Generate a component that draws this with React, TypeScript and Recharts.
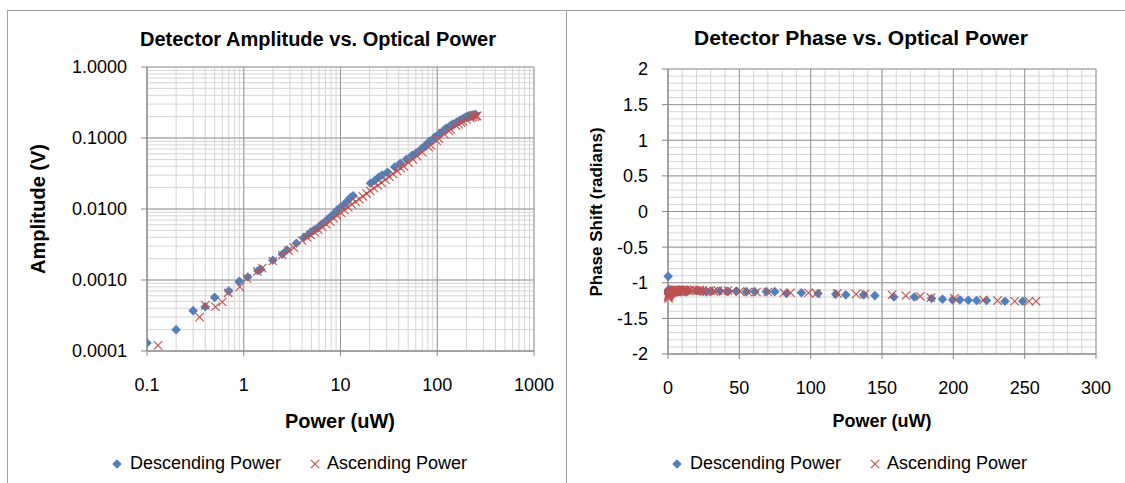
import React from 'react';
import { ScatterChart, Scatter, XAxis, YAxis, CartesianGrid } from 'recharts';

// Descending power sweep (uW), detector amplitude (V) and phase (rad)
const descPower = [
  0.1, 0.2, 0.3, 0.4, 0.5, 0.7, 0.9, 1.1, 1.4, 1.5,
  2.0, 2.5, 2.8, 3.5, 4.2, 4.6, 4.9, 5.3, 5.8, 6.3,
  6.8, 7.4, 8.0, 8.6, 9.2, 10.0, 10.8, 11.7, 12.7, 13.5,
  20.4, 22.5, 24.8, 26.9, 30.5, 36.3, 41.5, 48.0, 55.0, 60.8,
  69.0, 74.8, 83.0, 93.5, 105.2, 117.6, 124.6, 137.2, 145.0, 158.3,
  172.6, 184.7, 192.4, 199.5, 204.6, 210.5, 216.3, 223.3, 236.2, 248.6,
];
const descAmplitude = [
  0.00013, 0.0002, 0.00037, 0.00042, 0.00057, 0.0007, 0.00096, 0.0011, 0.00135, 0.00142,
  0.0019, 0.0023, 0.00265, 0.0033, 0.004, 0.0043, 0.0047, 0.005, 0.0054, 0.006,
  0.0065, 0.0072, 0.0079, 0.0086, 0.0096, 0.0106, 0.0115, 0.0128, 0.0145, 0.0154,
  0.023, 0.025, 0.028, 0.03, 0.033, 0.039, 0.044, 0.05, 0.057, 0.062,
  0.071, 0.078, 0.09, 0.102, 0.116, 0.13, 0.138, 0.15, 0.157, 0.168,
  0.179, 0.188, 0.193, 0.197, 0.2, 0.203, 0.206, 0.209, 0.213, 0.216,
];
const descPhase = [
  -0.91, -1.1, -1.12, -1.14, -1.11, -1.13, -1.12, -1.1, -1.13, -1.12,
  -1.11, -1.13, -1.12, -1.11, -1.12, -1.13, -1.12, -1.11, -1.12, -1.13,
  -1.12, -1.11, -1.12, -1.13, -1.12, -1.11, -1.12, -1.12, -1.13, -1.12,
  -1.11, -1.12, -1.12, -1.13, -1.12, -1.115, -1.12, -1.115, -1.125, -1.125,
  -1.125, -1.125, -1.15, -1.14, -1.15, -1.16, -1.17, -1.17, -1.18, -1.2,
  -1.2, -1.22, -1.23, -1.24, -1.24, -1.245, -1.25, -1.25, -1.26, -1.26,
];

// Ascending power sweep
const ascPower = [
  0.13, 0.35, 0.4, 0.51, 0.6, 0.69, 0.91, 1.08, 1.38, 1.55,
  2.0, 2.5, 2.9, 3.3, 4.0, 4.5, 4.9, 5.4, 5.9, 6.5,
  7.1, 7.8, 8.5, 9.2, 10.1, 11.0, 12.0, 13.1, 14.3, 15.6,
  17.0, 18.6, 20.3, 22.2, 24.3, 26.6, 29.1, 32.0, 35.0, 38.5,
  42.0, 45.0, 50.5, 56.0, 62.0, 70.0, 81.3, 85.9, 98.5, 104.0,
  118.7, 131.8, 138.0, 157.0, 166.7, 176.8, 184.3, 200.8, 221.0, 231.0,
  243.0, 253.0, 258.0,
];
const ascAmplitude = [
  0.00012, 0.0003, 0.00044, 0.00042, 0.00049, 0.00066, 0.0008, 0.00105, 0.00132, 0.00147,
  0.00185, 0.00225, 0.0026, 0.00285, 0.0036, 0.004, 0.0043, 0.0047, 0.0051, 0.0056,
  0.0061, 0.0067, 0.0074, 0.0081, 0.0089, 0.0097, 0.0106, 0.0116, 0.0127, 0.0138,
  0.0151, 0.0165, 0.018, 0.0197, 0.0215, 0.0235, 0.0258, 0.0285, 0.0312, 0.0345,
  0.0375, 0.04, 0.045, 0.05, 0.0555, 0.063, 0.074, 0.079, 0.092, 0.098,
  0.113, 0.126, 0.132, 0.149, 0.157, 0.165, 0.171, 0.182, 0.192, 0.196,
  0.2, 0.203, 0.205,
];
const ascPhase = [
  -1.2, -1.18, -1.22, -1.16, -1.19, -1.15, -1.17, -1.14, -1.16, -1.13,
  -1.15, -1.12, -1.14, -1.11, -1.13, -1.1, -1.12, -1.1, -1.11, -1.1,
  -1.12, -1.1, -1.11, -1.1, -1.11, -1.1, -1.11, -1.1, -1.11, -1.1,
  -1.11, -1.1, -1.11, -1.1, -1.11, -1.12, -1.11, -1.12, -1.11, -1.12,
  -1.11, -1.12, -1.12, -1.13, -1.13, -1.13, -1.14, -1.14, -1.14, -1.15,
  -1.15, -1.16, -1.16, -1.17, -1.18, -1.19, -1.21, -1.22, -1.24, -1.25,
  -1.26, -1.26, -1.26,
];

const powerLogTicks = [0.1, 1, 10, 100, 1000];
const amplitudeLogTicks = [0.0001, 0.001, 0.01, 0.1, 1];
const powerLinTicks = [0, 50, 100, 150, 200, 250, 300];
const phaseTicks = [-2, -1.5, -1, -0.5, 0, 0.5, 1, 1.5, 2];

const BLUE = '#4f81bd';
const RED = '#c0504d';
const AXIS = '#868686';
const MAJOR = '#989898';
const MINOR = '#d4d4d4';
const FONT = '"Liberation Sans", Arial, sans-serif';

const toPoints = (xs: number[], ys: number[]) => xs.map((x, i) => ({ x, y: ys[i] }));

// minor gridline values: 1..9 x each decade, or a fixed linear step
const logSteps = (lo: number, hi: number) => {
  const out: number[] = [];
  for (let d = lo; d < hi * 0.999; d *= 10) {
    for (let k = 1; k < 10; k++) out.push(d * k);
  }
  out.push(hi);
  return out;
};
const linSteps = (lo: number, hi: number, step: number) => {
  const out: number[] = [];
  const n = Math.round((hi - lo) / step);
  for (let i = 0; i <= n; i++) out.push(lo + i * step);
  return out;
};
const logFrac = (v: number, lo: number, hi: number) =>
  (Math.log10(v) - Math.log10(lo)) / (Math.log10(hi) - Math.log10(lo));
const linFrac = (v: number, lo: number, hi: number) => (v - lo) / (hi - lo);

const Diamond = (props: any) => {
  const { cx, cy } = props;
  const r = 4.8;
  return (
    <polygon
      points={`${cx},${cy - r} ${cx + r},${cy} ${cx},${cy + r} ${cx - r},${cy}`}
      fill={BLUE}
    />
  );
};

const Cross = (props: any) => {
  const { cx, cy } = props;
  const r = 4.2;
  return (
    <path
      d={`M${cx - r},${cy - r}L${cx + r},${cy + r}M${cx - r},${cy + r}L${cx + r},${cy - r}`}
      stroke={RED}
      strokeWidth={1.1}
      fill="none"
    />
  );
};

const tickStyle = { fontFamily: FONT, fontSize: 18, fill: '#000' };

const Text = ({ x, y, size, bold, rotate, children }: any) => (
  <div
    style={{
      position: 'absolute',
      left: x,
      top: y,
      transform: `translate(-50%, -50%)${rotate ? ' rotate(-90deg)' : ''}`,
      whiteSpace: 'nowrap',
      fontFamily: FONT,
      fontSize: size,
      fontWeight: bold ? 'bold' : 'normal',
      color: '#000',
      lineHeight: 1,
    }}
  >
    {children}
  </div>
);

const LegendRow = ({ x, y }: { x: number; y: number }) => (
  <>
    <svg style={{ position: 'absolute', left: x - 6, top: y - 6 }} width={12} height={12}>
      <Diamond cx={6} cy={6} />
    </svg>
    <div style={{ position: 'absolute', left: x + 13, top: y - 11, fontFamily: FONT, fontSize: 18, whiteSpace: 'nowrap' }}>
      Descending Power
    </div>
    <svg style={{ position: 'absolute', left: x + 192, top: y - 6 }} width={12} height={12}>
      <Cross cx={6} cy={6} />
    </svg>
    <div style={{ position: 'absolute', left: x + 210, top: y - 11, fontFamily: FONT, fontSize: 18, whiteSpace: 'nowrap' }}>
      Ascending Power
    </div>
  </>
);

const AmplitudeChart = () => (
  <ScatterChart
    width={565}
    height={483}
    margin={{ top: 67, right: 31, left: 60, bottom: 92 }}
    style={{ position: 'absolute', left: 0, top: 0 }}
  >
    <CartesianGrid
      stroke={MINOR}
      verticalCoordinatesGenerator={({ offset }: any) =>
        logSteps(0.1, 1000).map((v) => offset.left + offset.width * logFrac(v, 0.1, 1000))
      }
      horizontalCoordinatesGenerator={({ offset }: any) =>
        logSteps(0.0001, 1).map((v) => offset.top + offset.height * (1 - logFrac(v, 0.0001, 1)))
      }
    />
    <CartesianGrid stroke={MAJOR} />
    <XAxis
      type="number"
      dataKey="x"
      scale="log"
      domain={[0.1, 1000]}
      allowDataOverflow
      ticks={powerLogTicks}
      interval={0}
      height={40}
      tick={tickStyle}
      tickSize={5}
      tickMargin={22}
      stroke={AXIS}
    />
    <YAxis
      type="number"
      dataKey="y"
      scale="log"
      domain={[0.0001, 1]}
      allowDataOverflow
      ticks={amplitudeLogTicks}
      interval={0}
      width={87}
      tick={tickStyle}
      tickSize={6}
      tickMargin={14}
      tickFormatter={(v: number) => v.toFixed(4)}
      stroke={AXIS}
    />
    <Scatter data={toPoints(descPower, descAmplitude)} shape={Diamond} isAnimationActive={false} />
    <Scatter data={toPoints(ascPower, ascAmplitude)} shape={Cross} isAnimationActive={false} />
  </ScatterChart>
);

const PhaseChart = () => (
  <ScatterChart
    width={559}
    height={483}
    margin={{ top: 69, right: 29, left: 20, bottom: 89 }}
    style={{ position: 'absolute', left: 566, top: 0 }}
  >
    <CartesianGrid
      stroke={MINOR}
      verticalCoordinatesGenerator={({ offset }: any) =>
        linSteps(0, 300, 10).map((v) => offset.left + offset.width * linFrac(v, 0, 300))
      }
      horizontalCoordinatesGenerator={({ offset }: any) =>
        linSteps(-2, 2, 0.1).map((v) => offset.top + offset.height * (1 - linFrac(v, -2, 2)))
      }
    />
    <CartesianGrid stroke={MAJOR} />
    <XAxis
      type="number"
      dataKey="x"
      domain={[0, 300]}
      ticks={powerLinTicks}
      interval={0}
      height={40}
      tick={tickStyle}
      tickSize={5}
      tickMargin={22}
      stroke={AXIS}
    />
    <YAxis
      type="number"
      dataKey="y"
      domain={[-2, 2]}
      ticks={phaseTicks}
      interval={0}
      width={82}
      tick={tickStyle}
      tickSize={6}
      tickMargin={14}
      stroke={AXIS}
    />
    <Scatter data={toPoints(descPower, descPhase)} shape={Diamond} isAnimationActive={false} />
    <Scatter data={toPoints(ascPower, ascPhase)} shape={Cross} isAnimationActive={false} />
  </ScatterChart>
);

export default function App() {
  return (
    <div
      style={{
        position: 'absolute',
        left: 0,
        top: 0,
        width: 1125,
        height: 483,
        overflow: 'hidden',
        background: '#fff',
      }}
    >
      <div style={{ position: 'absolute', left: 7, top: 10, width: 558, height: 490, border: '1px solid #a0a0a0' }} />
      <div style={{ position: 'absolute', left: 566, top: 10, width: 580, height: 490, border: '1px solid #a0a0a0' }} />

      <AmplitudeChart />
      <PhaseChart />

      <Text x={318} y={39} size={20} bold>Detector Amplitude vs. Optical Power</Text>
      <Text x={38} y={209} size={20} bold rotate>Amplitude (V)</Text>
      <Text x={340} y={421} size={20} bold>Power (uW)</Text>
      <LegendRow x={117} y={464} />

      <Text x={861} y={37} size={21} bold>Detector Phase vs. Optical Power</Text>
      <Text x={596} y={212} size={17} bold rotate>Phase Shift (radians)</Text>
      <Text x={882} y={421} size={18} bold>Power (uW)</Text>
      <LegendRow x={677} y={464} />
    </div>
  );
}
